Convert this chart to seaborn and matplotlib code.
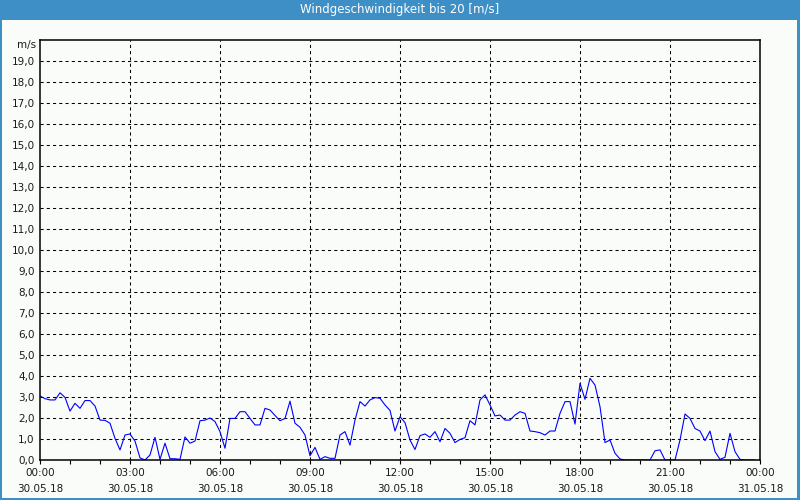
import numpy as np
import pandas as pd
import matplotlib
matplotlib.use("Agg")
import matplotlib.pyplot as plt
import seaborn as sns

# ---- data ----
title = "Windgeschwindigkeit bis 20 [m/s]"
unit_label = "m/s"
hours = [i / 6 for i in range(144)]  # 10-minute steps
wind = [
    3.05, 2.92, 2.86, 2.86, 3.2, 2.98, 2.33, 2.7, 2.46, 2.83, 2.83, 2.57,
    1.9, 1.89, 1.75, 1.03, 0.48, 1.19, 1.24, 0.9, 0.1, 0.0, 0.24, 1.08,
    0.03, 0.8, 0.06, 0.06, 0.03, 1.1, 0.8, 0.9, 1.87, 1.9, 2.0, 1.83,
    1.35, 0.56, 1.98, 1.98, 2.3, 2.3, 1.98, 1.67, 1.67, 2.46, 2.38, 2.12,
    1.87, 1.98, 2.8, 1.75, 1.56, 1.19, 0.2, 0.6, 0.03, 0.16, 0.08, 0.08,
    1.19, 1.35, 0.71, 1.9, 2.78, 2.57, 2.86, 2.97, 2.94, 2.62, 2.36, 1.38,
    2.06, 1.78, 0.95, 0.5, 1.16, 1.24, 1.08, 1.35, 0.87, 1.5, 1.27, 0.83,
    0.98, 1.06, 1.87, 1.67, 2.86, 3.1, 2.62, 2.1, 2.14, 1.9, 1.9, 2.14,
    2.3, 2.22, 1.38, 1.35, 1.3, 1.19, 1.38, 1.38, 2.22, 2.78, 2.78, 1.71,
    3.65, 2.89, 3.89, 3.57, 2.54, 0.83, 0.95, 0.32, 0.05, 0.0, 0.0, 0.0,
    0.0, 0.0, 0.0, 0.44, 0.48, 0.0, 0.0, 0.0, 0.95, 2.19, 1.98, 1.5,
    1.38, 0.92, 1.38, 0.4, 0.03, 0.13, 1.27, 0.4, 0.03, 0.0, 0.0, 0.0,
]
x_ticks = [0, 3, 6, 9, 12, 15, 18, 21, 24]
x_times = ["00:00", "03:00", "06:00", "09:00", "12:00", "15:00", "18:00", "21:00", "00:00"]
x_dates = ["30.05.18"] * 8 + ["31.05.18"]
y_ticks = list(range(20))
y_labels = [f"{v},0" for v in y_ticks]

df = pd.DataFrame({"hour": hours, "wind": wind})

sns.set_theme(style="white")
plt.rcParams["font.family"] = ["Liberation Sans Narrow", "DejaVu Sans"]

BLUE = "#3d8fc6"
fig = plt.figure(figsize=(8, 5), dpi=100, facecolor=BLUE)
# inner panel
panel = fig.add_axes([2 / 800, 2 / 500, 795 / 800, 478 / 500])
panel.set_facecolor("#fafcfa")
panel.set_xticks([]); panel.set_yticks([])
for s in panel.spines.values():
    s.set_visible(False)
fig.text(0.5, 1 - 10 / 500, title, color="white", ha="center", va="center",
         fontsize=8.5)

ax = fig.add_axes([40 / 800, 40 / 500, 720 / 800, 420 / 500])
ax.set_facecolor("#fafcfa")
sns.lineplot(data=df, x="hour", y="wind", ax=ax, color="#0000ff", lw=0.8)

ax.set_xlim(0, 24)
ax.set_ylim(0, 20)
for v in range(1, 20):
    ax.axhline(v, color="black", lw=0.75, ls=(0, (3, 3)), zorder=1)
for h in x_ticks[1:-1]:
    ax.axvline(h, color="black", lw=0.75, ls=(0, (3, 3)), zorder=1)

ax.set_yticks(y_ticks)
ax.set_yticklabels(y_labels)
ax.set_xticks(x_ticks)
ax.set_xticklabels([f"{t}\n{d}" for t, d in zip(x_times, x_dates)], linespacing=1.75)
ax.set_xticks(range(25), minor=True)
ax.tick_params(axis="y", length=0, pad=4, labelsize=7.5, labelcolor="#1a1a1a")
ax.tick_params(axis="x", which="both", direction="out", length=3, width=0.8,
               color="black", bottom=True, pad=3, labelsize=7.5, labelcolor="#1a1a1a")
ax.set_xlabel("")
ax.set_ylabel("")
ax.text(-0.005, 1 - 5 / 420, unit_label, transform=ax.transAxes, ha="right",
        va="center", fontsize=7.5, color="#1a1a1a")
for s in ax.spines.values():
    s.set_visible(True)
    s.set_color("black")
    s.set_linewidth(1.1)
    s.set_zorder(5)

fig.savefig("out.png", dpi=100, facecolor=BLUE)
